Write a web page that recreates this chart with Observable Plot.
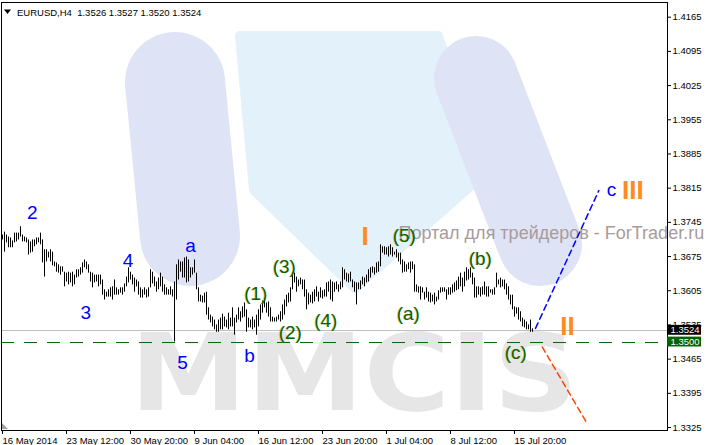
<!DOCTYPE html>
<html><head><meta charset="utf-8">
<script src="https://cdn.jsdelivr.net/npm/d3@7"></script>
<script src="https://cdn.jsdelivr.net/npm/@observablehq/plot@0.6"></script>
<style>html,body{margin:0;padding:0;background:#fff;overflow:hidden}</style>
</head><body><div id="chart"></div>
<script>
// ---- data (EURUSD H4 bars) ----
const highs = [
1.3719,1.3725,1.3719,1.3715,1.3713,1.3707,1.3723,1.3723,1.3723,1.3736,
1.3719,1.3715,1.3713,1.3709,1.3705,1.3709,1.3709,1.3713,1.3713,1.3723,
1.3709,1.3689,1.3689,1.3684,1.3689,1.3684,1.3664,1.3662,1.3658,1.3654,
1.3654,1.3643,1.3641,1.3643,1.3641,1.3643,1.3637,1.3648,1.3648,1.3652,
1.3662,1.3668,1.3664,1.3658,1.3643,1.3641,1.3637,1.3637,1.3637,1.3637,
1.3627,1.3607,1.3602,1.3607,1.3611,1.3613,1.3627,1.3611,1.3607,1.3611,
1.3611,1.3619,1.3633,1.3652,1.3643,1.3637,1.3631,1.3627,1.3623,1.3611,
1.3607,1.3611,1.3607,1.3611,1.3648,1.3643,1.3633,1.3623,1.3631,1.3641,
1.3633,1.3617,1.3611,1.3607,1.3613,1.3607,1.3623,1.3658,1.3668,1.3664,
1.3664,1.3672,1.3674,1.3668,1.3652,1.3652,1.3668,1.3641,1.3611,1.3596,
1.3594,1.3600,1.3602,1.3570,1.3555,1.3551,1.3545,1.3535,1.3545,1.3549,
1.3557,1.3551,1.3545,1.3559,1.3549,1.3570,1.3549,1.3555,1.3570,1.3562,
1.3572,1.3580,1.3566,1.3549,1.3545,1.3551,1.3545,1.3555,1.3566,1.3576,
1.3584,1.3590,1.3580,1.3582,1.3570,1.3551,1.3549,1.3551,1.3555,1.3562,
1.3576,1.3586,1.3596,1.3600,1.3611,1.3643,1.3641,1.3633,1.3627,1.3631,
1.3627,1.3627,1.3607,1.3600,1.3596,1.3602,1.3607,1.3613,1.3602,1.3611,
1.3605,1.3607,1.3621,1.3623,1.3627,1.3623,1.3621,1.3623,1.3617,1.3623,
1.3652,1.3648,1.3641,1.3639,1.3643,1.3627,1.3623,1.3621,1.3621,1.3625,
1.3633,1.3631,1.3637,1.3648,1.3652,1.3654,1.3652,1.3662,1.3664,1.3699,
1.3695,1.3695,1.3693,1.3695,1.3699,1.3693,1.3684,1.3689,1.3682,1.3682,
1.3668,1.3664,1.3658,1.3662,1.3664,1.3664,1.3658,1.3617,1.3613,1.3613,
1.3611,1.3602,1.3611,1.3602,1.3600,1.3596,1.3600,1.3592,1.3605,1.3611,
1.3611,1.3611,1.3607,1.3611,1.3611,1.3617,1.3621,1.3625,1.3633,1.3641,
1.3631,1.3643,1.3652,1.3648,1.3652,1.3641,1.3631,1.3613,1.3613,1.3611,
1.3613,1.3623,1.3613,1.3613,1.3607,1.3607,1.3611,1.3641,1.3627,1.3631,
1.3627,1.3627,1.3619,1.3613,1.3596,1.3596,1.3572,1.3570,1.3570,1.3562,
1.3549,1.3545,1.3541,1.3535,1.3545,1.3527];
const lows = [
1.3709,1.3684,1.3703,1.3693,1.3693,1.3693,1.3703,1.3705,1.3709,1.3715,
1.3705,1.3705,1.3703,1.3678,1.3682,1.3684,1.3695,1.3699,1.3703,1.3699,
1.3662,1.3633,1.3664,1.3672,1.3664,1.3656,1.3654,1.3643,1.3641,1.3637,
1.3643,1.3613,1.3623,1.3617,1.3621,1.3613,1.3617,1.3631,1.3633,1.3637,
1.3641,1.3652,1.3648,1.3641,1.3623,1.3611,1.3621,1.3623,1.3613,1.3617,
1.3596,1.3586,1.3592,1.3592,1.3592,1.3586,1.3596,1.3596,1.3596,1.3600,
1.3596,1.3602,1.3613,1.3621,1.3627,1.3617,1.3602,1.3613,1.3596,1.3590,
1.3590,1.3596,1.3590,1.3592,1.3611,1.3619,1.3613,1.3602,1.3607,1.3613,
1.3602,1.3596,1.3596,1.3596,1.3596,1.3592,1.3500,1.3586,1.3627,1.3643,
1.3631,1.3631,1.3621,1.3623,1.3631,1.3637,1.3641,1.3607,1.3582,1.3582,
1.3580,1.3580,1.3555,1.3545,1.3539,1.3531,1.3525,1.3520,1.3520,1.3525,
1.3525,1.3531,1.3529,1.3525,1.3531,1.3531,1.3514,1.3539,1.3545,1.3541,
1.3549,1.3551,1.3520,1.3529,1.3529,1.3525,1.3529,1.3514,1.3531,1.3545,
1.3559,1.3570,1.3559,1.3551,1.3541,1.3541,1.3541,1.3541,1.3545,1.3541,
1.3545,1.3555,1.3572,1.3580,1.3582,1.3607,1.3621,1.3602,1.3613,1.3617,
1.3607,1.3592,1.3566,1.3576,1.3580,1.3578,1.3582,1.3592,1.3582,1.3590,
1.3588,1.3592,1.3592,1.3602,1.3586,1.3582,1.3602,1.3607,1.3602,1.3607,
1.3611,1.3627,1.3623,1.3621,1.3623,1.3611,1.3602,1.3576,1.3607,1.3607,
1.3617,1.3613,1.3621,1.3623,1.3631,1.3641,1.3637,1.3641,1.3643,1.3654,
1.3682,1.3678,1.3678,1.3674,1.3678,1.3674,1.3678,1.3672,1.3664,1.3658,
1.3641,1.3643,1.3643,1.3648,1.3641,1.3648,1.3602,1.3602,1.3600,1.3586,
1.3600,1.3586,1.3590,1.3582,1.3580,1.3582,1.3576,1.3582,1.3586,1.3600,
1.3602,1.3602,1.3586,1.3596,1.3596,1.3600,1.3602,1.3605,1.3607,1.3613,
1.3602,1.3613,1.3625,1.3627,1.3631,1.3617,1.3590,1.3590,1.3596,1.3592,
1.3596,1.3596,1.3592,1.3592,1.3600,1.3596,1.3596,1.3611,1.3617,1.3611,
1.3613,1.3607,1.3596,1.3586,1.3576,1.3566,1.3551,1.3557,1.3545,1.3541,
1.3531,1.3529,1.3525,1.3525,1.3520,1.3520];
const lastBar = {open: 1.3526, high: 1.3527, low: 1.3520, close: 1.3524};
const symbol = "EURUSD,H4";

const timeTickIndex = [0, 32, 64, 96, 128, 160, 192, 224, 256];
const timeTickLabels = ["16 May 2014","23 May 12:00","30 May 20:00","9 Jun 04:00","16 Jun 12:00","23 Jun 20:00","1 Jul 04:00","8 Jul 12:00","15 Jul 20:00"];
const priceTicks = [1.3325,1.3395,1.3465,1.3535,1.3605,1.3675,1.3745,1.3815,1.3885,1.3955,1.4025,1.4095,1.4165];
const bidPrice = 1.3524;
const levelPrice = 1.3500;

// trend lines [bar index, price]
const blueTrend = [[266.5, 1.3528], [298.15, 1.3810]];
const redTrend = [[269.85, 1.3490], [292.35, 1.3333]];

// wave labels
const blueText = ["2","3","4","a","5","b","c"];
const blueBar = [14.85, 41.7, 62.8, 94, 90, 123.5, 304.5];
const bluePrice = [1.3765, 1.3560, 1.3667, 1.3696, 1.3457, 1.3472, 1.3812];
const greenText = ["(1)","(2)","(3)","(4)","(5)","(a)","(b)","(c)"];
const greenBar = [126.5, 143.75, 140.75, 161.5, 200.75, 202.75, 238.75, 256.5];
const greenPrice = [1.3598, 1.3519, 1.3653, 1.3543, 1.3717, 1.3557, 1.3670, 1.3477];
const orangeText = ["I","II","III"];
const orangeBar = [181.25, 282.5, 315.2];
const orangePrice = [1.3716, 1.3532, 1.3809];
const siteText = "Портал для трейдеров - ForTrader.ru";
const siteBar = 198;
const sitePrice = 1.3722;

// ---- chart ----
const idx = d3.range(highs.length);
const F = "Liberation Sans";
const plot = Plot.plot({
  width: 710, height: 445,
  marginLeft: 1, marginRight: 43, marginTop: 2, marginBottom: 15,
  style: {fontFamily: F, fontSize: "9.5px", background: "#fff", color: "#000", overflow: "visible"},
  x: {domain: [-0.5, 332.5]},
  y: {domain: [1.33189, 1.41951]},
  marks: [
    Plot.text([siteText], {x: siteBar, y: sitePrice, text: d => d, textAnchor: "start", fill: "#a89b9b", fontSize: 18, fontFamily: F}),
    Plot.ruleY([bidPrice], {stroke: "#c0c0c0", dy: 0.18}),
    Plot.ruleY([levelPrice], {stroke: "#006400", strokeDasharray: "13,10", dy: 0.5}),
    Plot.ruleX(idx, {x: d => d, y1: d => lows[d], y2: d => highs[d], stroke: "#000", strokeWidth: 1}),
    Plot.line(blueTrend, {x: d => d[0], y: d => d[1], stroke: "#0000ff", strokeDasharray: "6,4"}),
    Plot.line(redTrend, {x: d => d[0], y: d => d[1], stroke: "#ff4500", strokeDasharray: "6,4"}),
    Plot.text(greenText, {x: (d, i) => greenBar[i], y: (d, i) => greenPrice[i], text: d => d, fill: "#e0b020", fillOpacity: 0.6, dx: -0.5, fontSize: 19, fontFamily: F}),
    Plot.text(greenText, {x: (d, i) => greenBar[i], y: (d, i) => greenPrice[i], text: d => d, fill: "#006400", dx: 0.3, fontSize: 19, fontFamily: F}),
    Plot.text(blueText, {x: (d, i) => blueBar[i], y: (d, i) => bluePrice[i], text: d => d, fill: "#0000ff", fontSize: 19, fontFamily: F}),
    Plot.text(orangeText, {x: (d, i) => orangeBar[i], y: (d, i) => orangePrice[i], text: d => d, fill: "#ff8c1a", fontSize: 26, fontWeight: "bold", fontFamily: F}),
    Plot.frame({stroke: "#000"}),
    Plot.axisY(priceTicks, {anchor: "right", tickSize: 3, tickPadding: 2, tickFormat: d => d.toFixed(4), label: null}),
    Plot.axisX(timeTickIndex, {anchor: "bottom", tickSize: 4, tickPadding: 3, textAnchor: "start", label: null,
      tickFormat: d => timeTickLabels[timeTickIndex.indexOf(d)]}),
    Plot.rect([bidPrice, levelPrice], {x1: 332.5, x2: 349.5, y1: d => d - 0.00101, y2: d => d + 0.00101, fill: (d, i) => i ? "#006400" : "#000"}),
    Plot.text([bidPrice, levelPrice], {x: 332.5, y: d => d, text: d => d.toFixed(4), textAnchor: "start", dx: 3, fill: "#fff"})
  ]
});
document.getElementById("chart").appendChild(plot);

// ---- decorations (watermark logo, header) ----
const svg = d3.select(plot);
const wm = svg.insert("g", "g").attr("stroke-linejoin", "round").attr("stroke-linecap", "round");
// light-blue middle funnel
wm.append("path").attr("d", "M240,36 L438,36 L484,174 L355,288 L254,190 Z")
  .attr("fill", "#e3f1fa").attr("stroke", "#e3f1fa").attr("stroke-width", 10);
// lavender legs
wm.append("path").attr("d", "M175,82 L190,236").attr("fill", "none")
  .attr("stroke", "#dee3f6").attr("stroke-width", 100);
wm.append("path").attr("d", "M476,78 L540,244").attr("fill", "none")
  .attr("stroke", "#dee3f6").attr("stroke-width", 84);
wm.append("text").attr("x", 130).attr("y", 410).attr("text-anchor", "start")
  .attr("font-family", "DejaVu Sans").attr("font-weight", "bold").attr("font-size", 107)
  .attr("textLength", 448).attr("lengthAdjust", "spacingAndGlyphs")
  .attr("fill", "#e6e6e6").text("MMCIS");

svg.append("path").attr("d", "M4,9.5 L11,9.5 L7.5,14 Z").attr("fill", "#000");
svg.append("text").attr("x", 17).attr("y", 16).attr("text-anchor", "start").attr("font-family", F).attr("font-size", 9.5).attr("fill", "#000")
  .text(`${symbol}  ${lastBar.open.toFixed(4)} ${lastBar.high.toFixed(4)} ${lastBar.low.toFixed(4)} ${lastBar.close.toFixed(4)}`);
svg.append("path").attr("d", "M2,423 L2,429 L8,429 Z").attr("fill", "#a0a0a0");
</script>
</body></html>
